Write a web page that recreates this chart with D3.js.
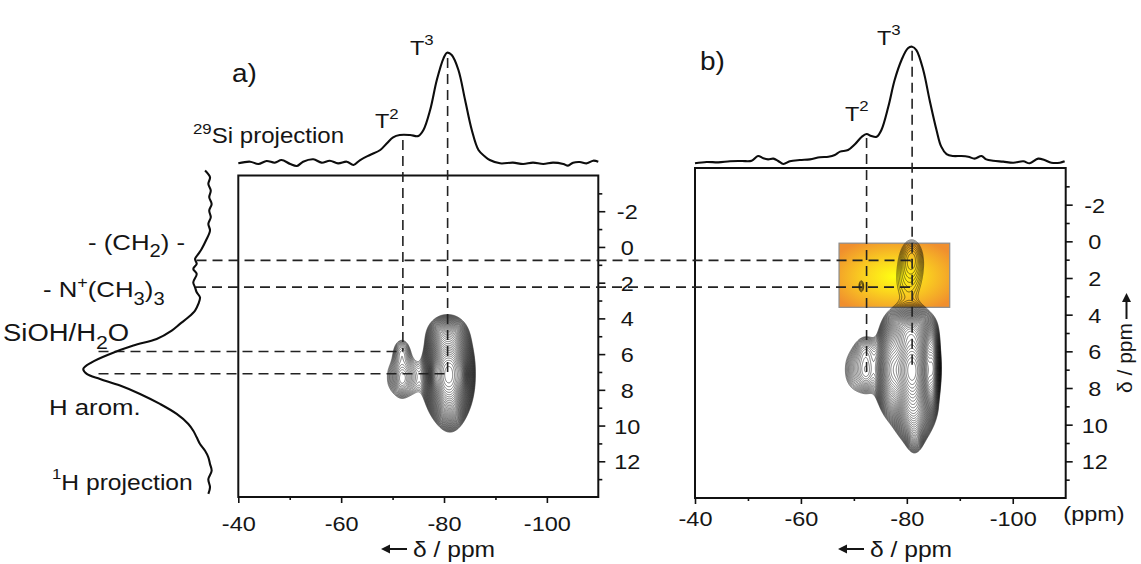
<!DOCTYPE html>
<html><head><meta charset="utf-8">
<script src="https://cdn.jsdelivr.net/npm/d3@7"></script>
<style>
body{margin:0;background:#fff}
svg{display:block}
text{font-family:"Liberation Sans",Arial,Helvetica,sans-serif;fill:#151515}
</style>
</head><body>
<svg id="chart" width="1141" height="564"></svg>
<script>
// ---------------- DATA ----------------
// 29Si projection, panel a (ppm, relative intensity)
const siPpmA = [-40,-42.3,-43.9,-45.5,-47.1,-48.4,-50.1,-51.4,-52.6,-54.6,-56.2,-57.8,-59.4,-61.1,-62.4,-63.7,-65.6,-67.6,-68.9,-70.1,-71.4,-73.4,-75,-76,-77.3,-78.6,-79.9,-80.6,-81.5,-82.8,-84.1,-85.4,-86.7,-88,-88.9,-90.9,-93.4,-95.4,-97.3,-99.3,-101.2,-103.2,-104.1,-105.1,-106.4,-107.8,-109,-110];
const siIntA = [-0.3,1.2,-0.9,1.8,0.3,2.7,-0.9,-2.7,1.2,3.4,0.3,2.1,-0.3,1.2,-1.8,2.7,7.3,11.8,17.9,23.3,25.4,25.4,24.5,29.9,48,75.2,94.9,100,97.9,84.3,57.1,29.9,11.8,5.7,2.7,-0.3,0.3,-0.9,0.3,-0.9,0.3,-0.9,-2.4,0.3,0.9,-0.3,2.1,1.2];
// 29Si projection, panel b
const siPpmB = [-40,-42.2,-44.4,-46.6,-48.8,-50.7,-51.9,-52.9,-53.8,-54.8,-55.7,-56.7,-57.9,-59.8,-61.7,-63.6,-65.2,-66.4,-67.4,-68.9,-70.2,-71.5,-72.4,-73.3,-74.3,-75.2,-76.5,-77.7,-79,-80.2,-81,-81.8,-83.1,-84.3,-85.6,-86.5,-87.5,-88.7,-90.3,-91.6,-92.8,-94.1,-95,-96.3,-98.2,-100.1,-102,-103.2,-104.8,-106,-107.3,-108.9,-109.8];
const siIntB = [-1.1,0,-0.3,0.6,0.9,1.1,5.2,3.2,2.3,2.9,0.9,-1.7,0.6,1.7,2.3,4.1,4.6,6.1,9.0,10.4,15.4,21.9,24.3,22.5,21.9,27.8,47.9,71.1,88.5,98.6,100,97.1,79.8,53.8,27.8,13.3,6.9,5.2,5.2,4.6,2.9,5.2,2.3,1.1,0.3,-0.6,0.6,-1.1,2.9,1.7,-0.6,-0.6,0.6];
// 1H projection (ppm, relative intensity)
const hPpm = [-4.28,-3.9,-3.53,-3.16,-2.78,-2.41,-2.04,-1.66,-1.29,-0.92,-0.36,0.11,0.39,0.67,0.95,1.23,1.51,1.98,2.26,2.54,2.82,3.19,3.56,3.94,4.31,4.68,5.15,5.52,5.99,6.46,6.83,7.11,7.39,7.76,8.23,8.79,9.35,9.91,10.29,10.66,11.03,11.41,11.78,12.15,12.53,13.0,13.46,13.83];
const hInt = [3.9,0,1.3,-0.6,0.6,-1.3,0.6,-0.6,1.3,0,3.2,6.6,9.2,11.8,10.5,13.2,10.5,13.2,11.8,10.5,7.9,9.2,11.8,17.1,23.7,30.2,42.1,60.5,78.9,93.4,100,97.3,86.8,71,55.2,39.5,26.3,17.1,13.2,10.5,7.9,3.9,1.3,0,-1.3,1.3,0,1.3];

// axis ticks
const xTickValues = [-40,-60,-80,-100];
const xMinorValues = [-50,-70,-90];
const yTickValues = [-2,0,2,4,6,8,10,12];
const yMinorValues = [-3,-1,1,3,5,7,9,11,13];

// 2D correlation peaks, panel a (29Si ppm, 1H ppm, amplitude, half-extent x/y at lowest level, shape)
const peakSiA  = [-80.9,-80.6,-81.2,-78.2,-83.4,-72.2,-71.8,-71.8];
const peakHA   = [7.1, 4.9, 8.8, 7.15, 7.15, 7.3, 5.85, 7.45];
const peakAmpA = [1.0, 0.12, 0.15, 0.12, 0.1, 0.07, 0.05, 0.03];
const peakWxA  = [5.2, 3.6, 2.5, 1.0, 1.0, 3.2, 1.35, 0.5];
const peakWyA  = [2.9, 1.0, 1.4, 0.7, 0.7, 1.05, 0.6, 0.35];
const peakQA   = [2.2, 2, 2, 2, 2, 2.2, 2, 2];

// 2D correlation peaks, panel b
const peakSiB  = [-81.0,-81.3,-81.5,-80.6,-77.0,-85.0,-71.6,-72.3,-72.4,-81.0,-80.3,-71.4];
const peakHB   = [7.0, 9.2, 10.6, 4.9, 7.0, 6.9, 7.0, 5.9, 7.2, 0.8, 2.2, 2.45];
const peakAmpB = [1.0, 0.3, 0.06, 0.3, 0.35, 0.2, 0.07, 0.045, 0.03, 0.034, 0.033, 0.035];
const peakWxB  = [4.8, 4.3, 1.2, 5.0, 3.2, 1.4, 3.2, 1.4, 0.55, 1.2, 2.0, 0.45];
const peakWyB  = [3.0, 2.0, 0.75, 1.3, 2.6, 2.0, 1.2, 0.55, 0.35, 0.6, 1.0, 0.3];
const peakQB   = [2, 1.7, 2, 2.2, 2, 2, 2.2, 2, 2, 2, 2, 2];

// highlighted region in panel b
const highlightSi = [-67.2, -88.1];
const highlightH  = [0.1, 3.6];

// correlation guide lines
const guideSiA = [-72.0, -80.7];   // T2, T3
const guideHA  = [5.85, 7.1];
const guideSiB = [-72.4, -81.0];
const guideHB  = [7.2, 6.9];
const guideHTop = [0.75, 2.25];     // -(CH2)- , -N+(CH3)3

// contour levels
const contourBase = 0.025, contourRatio = 1.09, contourCount = 43;

// ---------------- LAYOUT ----------------
const SX = 1.12;
const svg = d3.select("#chart");
const pA = {left:238.3, right:598.3, top:175.5, bottom:497};
const pB = {left:695, right:1065.7, top:168, bottom:498};
const xA = d3.scaleLinear([-40,-110],[pA.left,pA.right]);
const yA = d3.scaleLinear([-4,14],[pA.top,pA.bottom]);
const xB = d3.scaleLinear([-40,-110],[pB.left,pB.right]);
const yB = d3.scaleLinear([-4,14],[pB.top,pB.bottom]);
const siYA = d3.scaleLinear([0,100],[163,52.7]);
const siYB = d3.scaleLinear([0,100],[162,46.7]);
const hXA = d3.scaleLinear([0,100],[210,83.3]);

const defs = svg.append("defs");
const grad = defs.append("radialGradient").attr("id","boxGrad").attr("cx","50%").attr("cy","52%").attr("r","62%");
grad.append("stop").attr("offset","0%").attr("stop-color","#ffff12");
grad.append("stop").attr("offset","40%").attr("stop-color","#fbd61e");
grad.append("stop").attr("offset","100%").attr("stop-color","#f08f2e");
[["clipA",pA],["clipB",pB]].forEach(([id,p])=>{
  defs.append("clipPath").attr("id",id).append("rect")
    .attr("x",p.left).attr("y",p.top).attr("width",p.right-p.left).attr("height",p.bottom-p.top);
});

// highlight box
svg.append("rect")
  .attr("x", xB(highlightSi[0])).attr("y", yB(highlightH[0]))
  .attr("width", xB(highlightSi[1]) - xB(highlightSi[0]))
  .attr("height", yB(highlightH[1]) - yB(highlightH[0]))
  .attr("fill","url(#boxGrad)").attr("stroke","#8c8c8c").attr("stroke-width",1.2);

// ---------------- CONTOURS ----------------
const levels = Array.from({length:contourCount},(_,k)=>contourBase*Math.pow(contourRatio,k));
function makePeaks(si,h,amp,wx,wy,q){
  return si.map((_,k)=>{
    const r = Math.sqrt(Math.log(amp[k]/contourBase));
    return {x:si[k], y:h[k], a:amp[k], wx:wx[k]/r, wy:wy[k]/r, q:q[k]};
  });
}
function field(P,x,y){
  let s=0;
  for(const p of P){
    const u=Math.abs((x-p.x)/p.wx), v=Math.abs((y-p.y)/p.wy);
    if(u>5||v>5) continue;
    const rho=Math.pow(Math.pow(u,p.q)+Math.pow(v,p.q),1/p.q);
    s+=p.a*Math.exp(-rho*rho);
  }
  return s;
}
function drawContours(P, xs, ys, clip, g0){
  const {x0,x1,y0,y1,nx,ny}=g0;
  const dx=(x1-x0)/(nx-1), dy=(y1-y0)/(ny-1);
  const vals=new Float64Array(nx*ny);
  for(let j=0;j<ny;j++){const y=y0+j*dy;for(let i=0;i<nx;i++){vals[j*nx+i]=field(P,x0+i*dx,y);}}
  const cs=d3.contours().size([nx,ny]).thresholds(levels)(vals);
  const proj=d3.geoTransform({point:function(px,py){this.stream.point(xs(x0+(px-0.5)*dx), ys(y0+(py-0.5)*dy));}});
  const path=d3.geoPath(proj);
  svg.append("g").attr("clip-path",`url(#${clip})`)
    .selectAll("path").data(cs).join("path")
    .attr("d",path).attr("fill","none").attr("stroke","#111").attr("stroke-width",0.55);
}
drawContours(makePeaks(peakSiA,peakHA,peakAmpA,peakWxA,peakWyA,peakQA), xA, yA, "clipA",
  {x0:-63,x1:-93,y0:2,y1:12.5,nx:420,ny:460});
drawContours(makePeaks(peakSiB,peakHB,peakAmpB,peakWxB,peakWyB,peakQB), xB, yB, "clipB",
  {x0:-63,x1:-93,y0:-1,y1:13,nx:420,ny:560});

// ---------------- FRAMES & AXES ----------------
function frame(p){
  svg.append("rect").attr("x",p.left).attr("y",p.top).attr("width",p.right-p.left).attr("height",p.bottom-p.top)
    .attr("fill","none").attr("stroke","#111").attr("stroke-width",2);
}
frame(pA); frame(pB);
function styleAxis(ax){
  ax.attr("font-family",null).attr("font-size",null);
  ax.select(".domain").remove();
  ax.selectAll(".tick line").attr("stroke","#111").attr("stroke-width",1.6);
}
function xAxis(xs,p,labelBase){
  const ax=svg.append("g").attr("transform",`translate(0,${p.bottom})`)
    .call(d3.axisBottom(xs).tickValues(xTickValues).tickSize(6).tickFormat(d=>String(d)));
  styleAxis(ax);
  ax.selectAll(".tick text").attr("y",labelBase-p.bottom).attr("dy",null)
    .attr("font-size",21).attr("fill","#151515").attr("transform",`scale(${SX},1)`);
  const mi=svg.append("g").attr("transform",`translate(0,${p.bottom})`)
    .call(d3.axisBottom(xs).tickValues(xMinorValues).tickSize(3).tickFormat(""));
  styleAxis(mi);
}
function yAxis(ys,p){
  const ax=svg.append("g").attr("transform",`translate(${p.right},0)`)
    .call(d3.axisRight(ys).tickValues(yTickValues).tickSize(7).tickFormat(d=>String(d)));
  styleAxis(ax);
  ax.selectAll(".tick text").attr("x",0).attr("dy","0.36em").attr("text-anchor","middle")
    .attr("font-size",21).attr("fill","#151515").attr("transform",`translate(29,0) scale(${SX},1)`);
  const mi=svg.append("g").attr("transform",`translate(${p.right},0)`)
    .call(d3.axisRight(ys).tickValues(yMinorValues).tickSize(4).tickFormat(""));
  styleAxis(mi);
}
xAxis(xA,pA,531); xAxis(xB,pB,526);
yAxis(yA,pA); yAxis(yB,pB);

// ---------------- GUIDE LINES ----------------
const dash = (x1,y1,x2,y2)=>svg.append("line").attr("x1",x1).attr("y1",y1).attr("x2",x2).attr("y2",y2)
  .attr("stroke","#222").attr("stroke-width",1.6).attr("stroke-dasharray","10,6");
const interp=(xs,ys,v)=>{
  for(let i=0;i<xs.length-1;i++){const a=xs[i],b=xs[i+1]; if((v-a)*(v-b)<=0){const t=(v-a)/(b-a);return ys[i]+t*(ys[i+1]-ys[i]);}}
  return 0;
};
guideSiA.forEach((s,i)=>dash(xA(s), siYA(interp(siPpmA,siIntA,s))+5, xA(s), yA(guideHA[i])));
guideHA.forEach((h,i)=>dash(hXA(88), yA(h), xA(guideSiA[i]), yA(h)));
guideHTop.forEach(h=>dash(hXA(interp(hPpm,hInt,h))+1, yA(h), xB(guideSiB[1]), yA(h)));
guideSiB.forEach((s,i)=>dash(xB(s), siYB(interp(siPpmB,siIntB,s))+4, xB(s), yB(guideHB[i])));

// ---------------- PROJECTIONS ----------------
const lineStyle = sel=>sel.attr("fill","none").attr("stroke","#0d0d0d").attr("stroke-width",2.1).attr("stroke-linejoin","round");
svg.append("path").datum(d3.zip(siPpmA,siIntA))
  .attr("d",d3.line().x(d=>xA(d[0])).y(d=>siYA(d[1])).curve(d3.curveCatmullRom)).call(lineStyle);
svg.append("path").datum(d3.zip(siPpmB,siIntB))
  .attr("d",d3.line().x(d=>xB(d[0])).y(d=>siYB(d[1])).curve(d3.curveCatmullRom)).call(lineStyle);
svg.append("path").datum(d3.zip(hPpm,hInt))
  .attr("d",d3.line().x(d=>hXA(d[1])).y(d=>yA(d[0])).curve(d3.curveCatmullRom)).call(lineStyle);

// ---------------- TEXT ----------------
function rich(x,y,parts,size,opt={}){
  const t=svg.append("text").attr("font-size",size)
    .attr("text-anchor",opt.anchor||"start")
    .attr("transform",opt.transform||`translate(${x},${y}) scale(${SX},1)`);
  let shift=0;
  parts.forEach(p=>{
    const o=typeof p==="string"?{t:p}:p;
    const target=o.sup?-o.sup:(o.sub?o.sub:0);
    const ts=t.append("tspan").text(o.t).attr("dy",target-shift);
    if(o.size) ts.attr("font-size",o.size);
    shift=target;
  });
  return t;
}
function arrow(x1,y1,x2,y2){
  const ang=Math.atan2(y2-y1,x2-x1), L=9, Wd=4.5;
  const bx=x2-L*Math.cos(ang), by=y2-L*Math.sin(ang);
  svg.append("line").attr("x1",x1).attr("y1",y1).attr("x2",bx).attr("y2",by).attr("stroke","#151515").attr("stroke-width",2);
  svg.append("path").attr("fill","#151515")
    .attr("d",`M${x2},${y2}L${bx-Wd*Math.sin(ang)},${by+Wd*Math.cos(ang)}L${bx+Wd*Math.sin(ang)},${by-Wd*Math.cos(ang)}Z`);
}
rich(232,82,["a)"],25);
rich(700,70,["b)"],25);
rich(410,55,["T",{t:"3",sup:10,size:15}],21);
rich(375,128,["T",{t:"2",sup:9.5,size:15}],21);
rich(877,45,["T",{t:"3",sup:10,size:15}],21);
rich(845,120.5,["T",{t:"2",sup:9.5,size:15}],21);
rich(193,143,[{t:"29",sup:9,size:15},"Si projection"],21.5);
rich(88,250,["- (CH",{t:"2",sub:7,size:18},") -"],23);
rich(43,296.5,["- N",{t:"+",sup:9,size:16},"(CH",{t:"3",sub:8,size:18},")",{t:"3",sub:8,size:18}],23);
rich(3,341,["SiOH/H",{t:"2",sub:8,size:19},"O"],24.5);
rich(49,415,["H arom."],23);
rich(52,490,[{t:"1",sup:11,size:15},"H projection"],22);
arrow(407,549,381,549); rich(413,557,["\u03B4 / ppm"],22);
arrow(864,549,838,549); rich(870,557,["\u03B4 / ppm"],22);
rich(1094,520.5,["(ppm)"],21,{anchor:"middle"});
arrow(1126.5,319,1126.5,293);
rich(0,0,["\u03B4 / ppm"],21,{transform:"translate(1132,393) rotate(-90)"});
</script>
</body></html>
